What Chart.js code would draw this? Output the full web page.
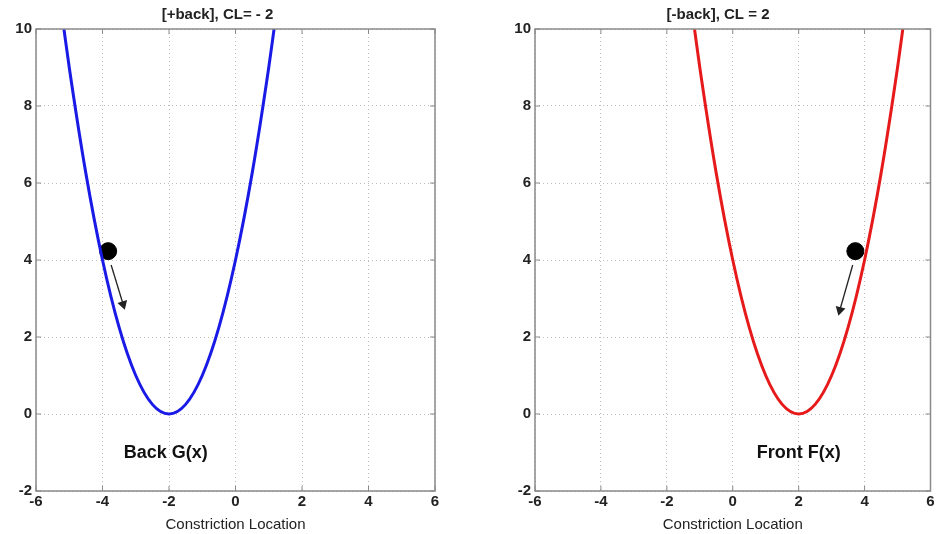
<!DOCTYPE html>
<html>
<head>
<meta charset="utf-8">
<script src="https://cdn.jsdelivr.net/npm/chart.js@4.4.1/dist/chart.umd.min.js"></script>
<style>
  html, body { margin: 0; padding: 0; background: #fff; }
  #wrap { position: relative; width: 940px; height: 534px; }
  .panel { position: absolute; top: 0; height: 534px; }
  #leftPanel { left: 0; width: 470px; }
  #rightPanel { left: 499px; width: 441px; }
</style>
</head>
<body>
<div id="wrap">
  <div class="panel" id="leftPanel"><canvas id="backChart"></canvas></div>
  <div class="panel" id="rightPanel"><canvas id="frontChart"></canvas></div>
</div>
<script>
// --- data ---
const xTicks = [-6, -4, -2, 0, 2, 4, 6];
const yTicks = [-2, 0, 2, 4, 6, 8, 10];

// back curve G(x), minimum at -2
const backX = [-5.16, -5, -4.5, -4, -3.5, -3, -2.5, -2, -1.5, -1, -0.5, 0, 0.5, 1, 1.16];
const backY = [10, 9, 6.25, 4, 2.25, 1, 0.25, 0, 0.25, 1, 2.25, 4, 6.25, 9, 10];

// front curve F(x), minimum at 2
const frontX = [-1.16, -1, -0.5, 0, 0.5, 1, 1.5, 2, 2.5, 3, 3.5, 4, 4.5, 5, 5.16];
const frontY = [10, 9, 6.25, 4, 2.25, 1, 0.25, 0, 0.25, 1, 2.25, 4, 6.25, 9, 10];

// ball and arrow
const backBall = [-3.83, 4.23];
const backArrowX = [-3.74, -3.38];
const backArrowY = [3.87, 2.85];
const frontBall = [3.72, 4.23];
const frontArrowX = [3.64, 3.25];
const frontArrowY = [3.87, 2.7];

// text labels
const backLabel = ['Back G(x)', -2.1, -1.02];
const frontLabel = ['Front F(x)', 2.0, -1.02];

const FONT = "'Liberation Sans', Arial, Helvetica, sans-serif";

function toPts(xs, ys) {
  return xs.map((x, i) => ({ x: x, y: ys[i] }));
}

// frame around the plot area, like the matlab box
const boxPlugin = {
  id: 'box',
  afterDraw(chart) {
    const a = chart.chartArea;
    const ctx = chart.ctx;
    ctx.save();
    ctx.strokeStyle = '#8a8a8a';
    ctx.lineWidth = 1.5;
    ctx.strokeRect(a.left, a.top, a.right - a.left, a.bottom - a.top);
    // small inward ticks
    ctx.lineWidth = 1;
    const xs = chart.scales.x, ys = chart.scales.y;
    xTicks.forEach(t => {
      const px = xs.getPixelForValue(t);
      ctx.beginPath();
      ctx.moveTo(px, a.bottom); ctx.lineTo(px, a.bottom - 5);
      ctx.moveTo(px, a.top); ctx.lineTo(px, a.top + 5);
      ctx.stroke();
    });
    yTicks.forEach(t => {
      const py = ys.getPixelForValue(t);
      ctx.beginPath();
      ctx.moveTo(a.left, py); ctx.lineTo(a.left + 5, py);
      ctx.moveTo(a.right, py); ctx.lineTo(a.right - 5, py);
      ctx.stroke();
    });
    ctx.restore();
  }
};

// draws the text label at data coordinates
const labelPlugin = {
  id: 'curveLabel',
  afterDatasetsDraw(chart, args, opts) {
    if (!opts.text) return;
    const ctx = chart.ctx;
    ctx.save();
    ctx.font = 'bold 18px ' + FONT;
    ctx.fillStyle = '#111';
    ctx.textAlign = 'center';
    ctx.textBaseline = 'middle';
    ctx.fillText(opts.text, chart.scales.x.getPixelForValue(opts.x), chart.scales.y.getPixelForValue(opts.y));
    ctx.restore();
  }
};

function makeChart(id, title, xs, ys, color, ball, arrowX, arrowY, arrowRot, label, padRight) {
  const ctx = document.getElementById(id);
  return new Chart(ctx, {
    type: 'scatter',
    data: {
      datasets: [
        {
          data: toPts(xs, ys),
          showLine: true,
          borderColor: color,
          borderWidth: 3,
          pointRadius: 0,
          tension: 0.4,
          cubicInterpolationMode: 'monotone'
        },
        {
          data: toPts(arrowX, arrowY),
          showLine: true,
          borderWidth: 1.3,
          pointStyle: 'triangle',
          pointRadius: [0, 4.5],
          pointRotation: arrowRot,
          backgroundColor: '#222',
          borderColor: '#222'
        },
        {
          data: [{ x: ball[0], y: ball[1] }],
          pointStyle: 'ellipse',
          pointRadius: 8.5,
          backgroundColor: '#000',
          borderColor: '#000'
        }
      ]
    },
    plugins: [boxPlugin, labelPlugin],
    options: {
      responsive: true,
      maintainAspectRatio: false,
      animation: false,
      layout: { padding: { right: padRight, left: 0, top: 0, bottom: 0 } },
      plugins: {
        legend: { display: false },
        tooltip: { enabled: false },
        title: {
          display: true,
          text: title,
          color: '#222',
          font: { family: FONT, size: 15, weight: 'bold' },
          padding: { top: 6, bottom: 5 }
        },
        curveLabel: { text: label[0], x: label[1], y: label[2] }
      },
      scales: {
        x: {
          type: 'linear',
          min: -6, max: 6,
          afterBuildTicks: s => { s.ticks = xTicks.map(v => ({ value: v })); },
          afterFit: s => { s.height = 43; },
          grid: { color: '#bdbdbd', drawTicks: false, lineWidth: 1 },
          border: { display: false, dash: [1, 3] },
          ticks: { color: '#222', font: { family: FONT, size: 15, weight: 'bold' }, padding: 2 },
          title: {
            display: true,
            text: 'Constriction Location',
            color: '#222',
            font: { family: FONT, size: 15 },
            padding: { top: 0, bottom: 0 }
          }
        },
        y: {
          type: 'linear',
          min: -2, max: 10,
          afterBuildTicks: s => { s.ticks = yTicks.map(v => ({ value: v })); },
          afterFit: s => { s.width = 36; },
          grid: { color: '#bdbdbd', drawTicks: false, lineWidth: 1 },
          border: { display: false, dash: [1, 3] },
          ticks: { color: '#222', font: { family: FONT, size: 15, weight: 'bold' }, padding: 4 }
        }
      }
    }
  });
}

makeChart('backChart', '[+back], CL= - 2', backX, backY, '#1a1ae6',
  backBall, backArrowX, backArrowY, [0, 163], backLabel, 35);
makeChart('frontChart', '[-back], CL = 2', frontX, frontY, '#e61a1a',
  frontBall, frontArrowX, frontArrowY, [0, 195], frontLabel, 3);
</script>
</body>
</html>
